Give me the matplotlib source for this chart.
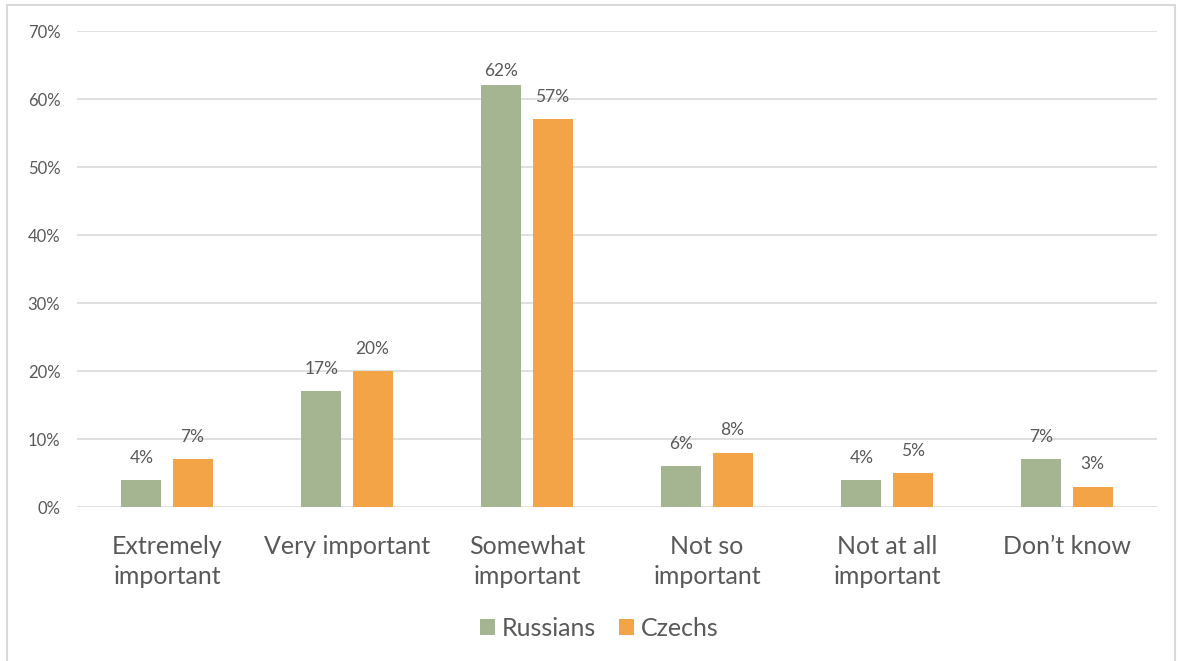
import numpy as np
import matplotlib.pyplot as plt
from matplotlib.patches import Rectangle
from matplotlib.ticker import FuncFormatter

categories = ["Extremely\nimportant", "Very important", "Somewhat\nimportant",
              "Not so\nimportant", "Not at all\nimportant", "Don\u2019t know"]
russians = [4, 17, 62, 6, 4, 7]
czechs = [7, 20, 57, 8, 5, 3]

plt.rcParams['font.family'] = ['Lato', 'DejaVu Sans']
grey = '#595959'
green = '#A5B592'
orange = '#F3A447'

fig = plt.figure(figsize=(11.82, 6.61), dpi=100)
ax = fig.add_axes([77/1182, 1 - 507/661, 1080/1182, 476/661])

# рамка вокруг всей картинки
fig.patches.append(Rectangle((7/1182, -0.01), 1168/1182, 1 - 5/661 + 0.01,
                             transform=fig.transFigure, fill=False,
                             edgecolor='#d9d9d9', linewidth=1.5))

x = np.arange(len(categories))
w = 0.222
off = 0.142
b1 = ax.bar(x - off, russians, w, color=green, label='Russians', zorder=3)
b2 = ax.bar(x + off, czechs, w, color=orange, label='Czechs', zorder=3)

for bars, vals in ((b1, russians), (b2, czechs)):
    for b, v in zip(bars, vals):
        # как в Excel: подпись не вылезает за верх области
        ax.text(b.get_x() + b.get_width() / 2, min(v + 2.1, 63.0), f'{v}%',
                ha='center', va='bottom', fontsize=12.5, color=grey)

ax.set_xlim(-0.5, len(categories) - 0.5)
ax.set_ylim(0, 70)
ax.set_yticks(range(0, 71, 10))
ax.yaxis.set_major_formatter(FuncFormatter(lambda v, p: f'{int(v)}%'))
ax.set_xticks(x)
ax.set_xticklabels(categories, fontsize=18, color=grey, linespacing=1.4)
ax.tick_params(axis='y', labelsize=12, labelcolor=grey, length=0, pad=12)
ax.tick_params(axis='x', length=0, pad=20)
ax.grid(axis='y', color='#d9d9d9', linewidth=1.2, zorder=0)
for s in ax.spines.values():
    s.set_visible(False)

leg = fig.legend(loc='center', bbox_to_anchor=(599/1182, 1 - 628/661), ncol=2,
                 frameon=False, fontsize=18, handlelength=0.6, handleheight=0.6,
                 handletextpad=0.28, columnspacing=0.92)
for t in leg.get_texts():
    t.set_color(grey)

fig.savefig('out.png', dpi=100)
